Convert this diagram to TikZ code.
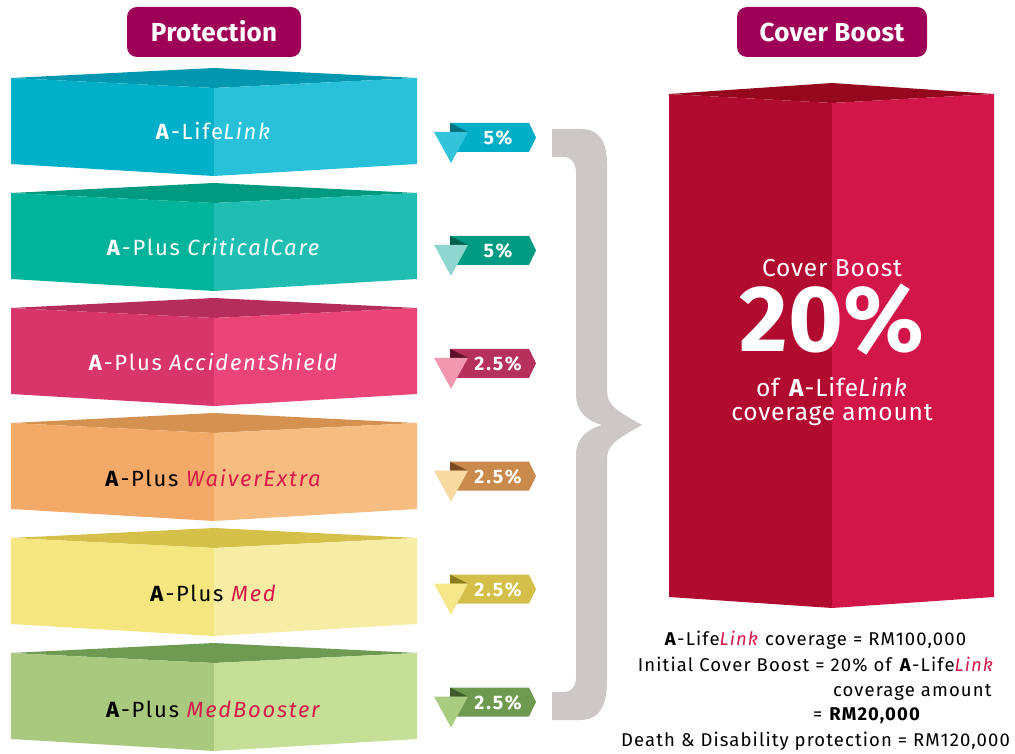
\documentclass[tikz,border=0pt]{standalone}
\usepackage{fontspec}
\setmainfont{Fira Sans}
\definecolor{pill}{HTML}{9E0057}
\definecolor{crim}{HTML}{D8194C}
\definecolor{bracec}{HTML}{CDC7C7}
\definecolor{aT}{HTML}{0397B0}\definecolor{aL}{HTML}{00AFC8}\definecolor{aR}{HTML}{29C1DA}
\definecolor{bT}{HTML}{009A80}\definecolor{bL}{HTML}{00B49B}\definecolor{bR}{HTML}{20BEB2}
\definecolor{cT}{HTML}{B52D5B}\definecolor{cL}{HTML}{D8366B}\definecolor{cR}{HTML}{EA4479}
\definecolor{dT}{HTML}{D4914F}\definecolor{dL}{HTML}{F3AA69}\definecolor{dR}{HTML}{F7BC80}
\definecolor{eT}{HTML}{D5C04A}\definecolor{eL}{HTML}{F5E680}\definecolor{eR}{HTML}{F7EDA5}
\definecolor{fT}{HTML}{6E9A52}\definecolor{fL}{HTML}{A9C97F}\definecolor{fR}{HTML}{C5DF97}
\definecolor{gT}{HTML}{96081E}\definecolor{gL}{HTML}{B10B30}\definecolor{gR}{HTML}{D3164A}
% tag colours: band, light, dark
\definecolor{t1b}{HTML}{00AEC7}\definecolor{t1l}{HTML}{33C4DC}\definecolor{t1d}{HTML}{006F7E}
\definecolor{t2b}{HTML}{009B82}\definecolor{t2l}{HTML}{8ED6CF}\definecolor{t2d}{HTML}{00614F}
\definecolor{t3b}{HTML}{B5305A}\definecolor{t3l}{HTML}{F297B0}\definecolor{t3d}{HTML}{5C1028}
\definecolor{t4b}{HTML}{C98A4B}\definecolor{t4l}{HTML}{F8D9A0}\definecolor{t4d}{HTML}{7A4E20}
\definecolor{t5b}{HTML}{D4BF4A}\definecolor{t5l}{HTML}{F5E78A}\definecolor{t5d}{HTML}{8A7A20}
\definecolor{t6b}{HTML}{6E9A50}\definecolor{t6l}{HTML}{A9CC80}\definecolor{t6d}{HTML}{3E5A28}
\newcommand\myblock[4]{%
  \fill[#2] (11,#1) -- (214,#1-10) -- (417,#1) -- (214,#1+10) -- cycle;
  \fill[#3] (11,#1) -- (214,#1+10) -- (214,#1+98) -- (11,#1+86) -- cycle;
  \fill[#4] (214,#1+10) -- (417,#1) -- (417,#1+86) -- (214,#1+98) -- cycle;
}
\newcommand\mytag[5]{%
  \fill[#2] (450,#1-14.5) -- (529,#1-14.5) -- (536,#1) -- (529,#1+14.5) -- (450,#1+14.5) -- cycle;
  \fill[#4] (450,#1-14.5) -- (468,#1-5.5) -- (450,#1-5.5) -- cycle;
  \fill[#3] (434,#1-5.5) -- (468,#1-5.5) -- (451,#1+25.5) -- cycle;
  \node[tagtext] (tag#5) at (498,#1+7.5) {\pct{#5}};
}
\newcommand\pct[1]{\ifcase#1\or5\%\or5\%\else2.5\%\fi}
\begin{document}
\begin{tikzpicture}[x=1pt,y=-1pt,
  pilltext/.style={anchor=base,text=white,font=\fontsize{26}{30}\selectfont\addfontfeature{LetterSpace=1}\bfseries},
  boxtext/.style={anchor=base,font=\fontsize{22}{26}\selectfont\addfontfeature{LetterSpace=8}},
  tagtext/.style={anchor=base,text=white,font=\fontsize{19.5}{23}\selectfont\addfontfeature{LetterSpace=9}\bfseries},
  bigtext/.style={anchor=base,text=white,font=\fontsize{24.5}{28}\selectfont\addfontfeature{LetterSpace=3.3}},
  infotext/.style={anchor=base,text=black,font=\fontsize{18.5}{22}\selectfont\addfontfeature{LetterSpace=6}}]
\useasboundingbox (0,0) rectangle (1015,754);
\fill[white] (0,0) rectangle (1015,754);
% header pills
\fill[pill,rounded corners=10pt] (127,7) rectangle (301,57);
\node[pilltext] (hprot) at (214,41.7) {Protection};
\fill[pill,rounded corners=10pt] (737,7) rectangle (927,57);
\node[pilltext] (hcov) at (832,41.7) {Cover Boost};
% blocks
\myblock{78}{aT}{aL}{aR}
\myblock{193}{bT}{bL}{bR}
\myblock{308}{cT}{cL}{cR}
\myblock{423}{dT}{dL}{dR}
\myblock{538}{eT}{eL}{eR}
\myblock{653}{fT}{fL}{fR}
\node[boxtext,text=white] (p1) at (214,140) {\textbf{A}-Life\textit{Link}};
\node[boxtext,text=white] (p2) at (214,255.4) {\textbf{A}-Plus \textit{CriticalCare}};
\node[boxtext,text=white] (p3) at (214,370.8) {\textbf{A}-Plus \textit{AccidentShield}};
\node[boxtext,text=black] (p4) at (214,486.2) {\textbf{A}-Plus \textcolor{crim}{\textit{WaiverExtra}}};
\node[boxtext,text=black] (p5) at (214,601.6) {\textbf{A}-Plus \textcolor{crim}{\textit{Med}}};
\node[boxtext,text=black] (p6) at (214,717) {\textbf{A}-Plus \textcolor{crim}{\textit{MedBooster}}};
% tags
\mytag{137.5}{t1b}{t1l}{t1d}{1}
\mytag{250.4}{t2b}{t2l}{t2d}{2}
\mytag{363.3}{t3b}{t3l}{t3d}{3}
\mytag{476.2}{t4b}{t4l}{t4d}{4}
\mytag{589.1}{t5b}{t5l}{t5d}{5}
\mytag{702}{t6b}{t6l}{t6d}{6}
% brace
\fill[bracec] (552,129) -- (580,129) .. controls (600,129) and (607,142) .. (607,165)
  -- (607,390) .. controls (607,405) and (615,410) .. (642,425)
  .. controls (615,440) and (607,445) .. (607,460)
  -- (607,680) .. controls (607,705) and (600,720) .. (580,720) -- (552,720) -- (552,692)
  -- (564,692) .. controls (572,692) and (576,686) .. (576,677)
  -- (576,455) .. controls (576,440) and (585,430) .. (602,425)
  .. controls (585,420) and (576,410) .. (576,395)
  -- (576,173) .. controls (576,164) and (572,157) .. (564,157) -- (552,157) -- cycle;
% big box
\fill[gT] (669,94) -- (832,83) -- (994,94) -- (832,103) -- cycle;
\fill[gL] (669,94) -- (832,103) -- (832,608) -- (669,597) -- cycle;
\fill[gR] (832,103) -- (994,94) -- (994,597) -- (832,608) -- cycle;
\node[bigtext] (c1) at (832,276.7) {Cover Boost};
\node[anchor=base,text=white,font=\fontsize{94}{100}\selectfont\bfseries] (c2) at (832,351.7) {20\%};
\node[bigtext] (c3) at (832,396.7) {of \textbf{A}-Life\textit{Link}};
\node[bigtext] (c4) at (832,420) {coverage amount};
% info text
\node[infotext] (i1) at (815.5,645.7) {\textbf{A}-Life\textcolor{crim}{\textit{Link}} coverage = RM100,000};
\node[infotext] (i2) at (816,671) {Initial Cover Boost = 20\% of \textbf{A}-Life\textcolor{crim}{\textit{Link}}};
\node[infotext,anchor=base east] (i3) at (995,696.7) {coverage amount};
\node[infotext] (i4) at (867,720.7) {= \textbf{RM20,000}};
\node[infotext] (i5) at (815.5,746.7) {Death \& Disability protection = RM120,000};
\end{tikzpicture}
\end{document}
